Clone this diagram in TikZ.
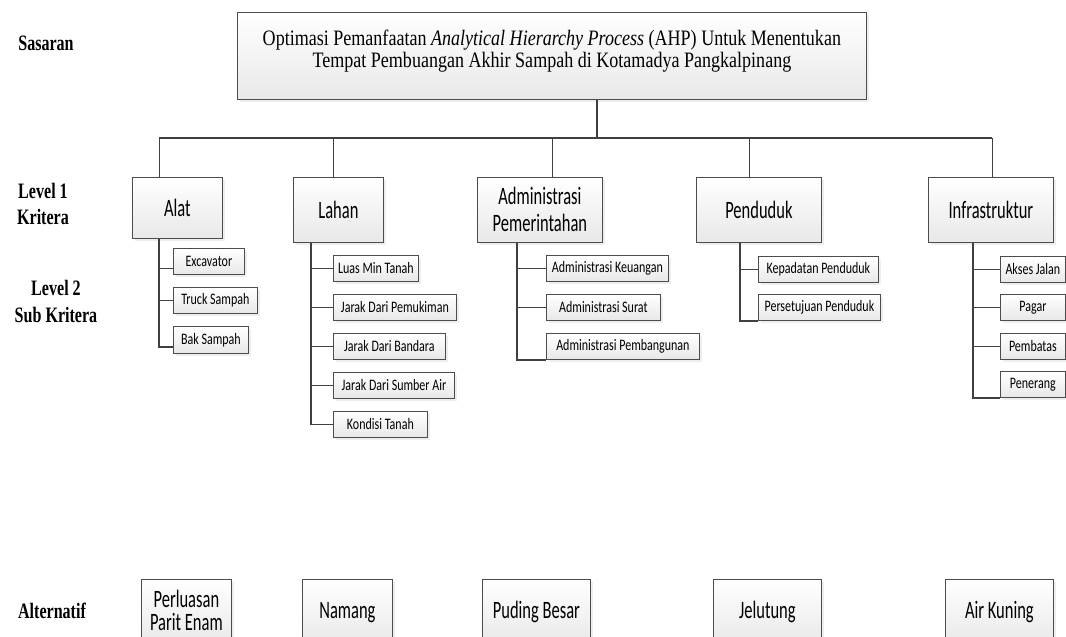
\documentclass[tikz,border=0pt]{standalone}
\usepackage{fontspec}
\setmainfont{Liberation Serif}
\newfontfamily\titlefont[FakeStretch=0.82]{Liberation Serif}
\newfontfamily\labelfont[FakeStretch=0.73]{Liberation Serif}
\newfontfamily\critfont[FakeStretch=0.66]{Carlito}
\newfontfamily\subfont[FakeStretch=0.75]{Carlito}
\usetikzlibrary{shadows}

\tikzset{
    box/.style={draw=black!70, line width=0.8pt, top color=white, bottom color=black!9,
        drop shadow={shadow xshift=3pt, shadow yshift=-3pt, fill=black!13},
        align=center, inner sep=1pt, anchor=north west},
    crit/.style={box, minimum height=65, font=\critfont\fontsize{25}{26}\selectfont},
    alt/.style={box, minimum height=66, font=\critfont\fontsize{25}{23.5}\selectfont},
    sub/.style={box, minimum height=26, font=\subfont\fontsize{16}{18}\selectfont},
    lbl/.style={anchor=base, font=\labelfont\bfseries\fontsize{22}{24}\selectfont},
    link/.style={draw=black!75, line width=1.6pt},
}

\begin{document}
\begin{tikzpicture}[x=1pt, y=-1pt]

    \useasboundingbox (0,0) rectangle (1066,637);

    % row labels
    \node[lbl] (sasaran) at (46,50) {Sasaran};
    \node[lbl] (lvla) at (43,198) {Level 1};
    \node[lbl] (lvlb) at (43,224) {Kritera};
    \node[lbl] (subla) at (56,295) {Level 2};
    \node[lbl] (sublb) at (56,322) {Sub Kritera};
    \node[lbl] (alternatif) at (52,618) {Alternatif};

    % goal
    \node[box, minimum width=629, minimum height=87, text depth=15pt,
        font=\titlefont\fontsize{22}{22}\selectfont] (goal) at (237,12)
        {Optimasi Pemanfaatan \textit{Analytical Hierarchy Process} (AHP) Untuk Menentukan\\
         Tempat Pembuangan Akhir Sampah di Kotamadya Pangkalpinang};

    % level 1
    \node[crit, minimum width=90, minimum height=61] (alat) at (132,177) {Alat};
    \node[crit, minimum width=90] (lahan) at (293,177) {Lahan};
    \node[crit, minimum width=125] (admin) at (477,177) {Administrasi\\[1pt]Pemerintahan};
    \node[crit, minimum width=125] (pend) at (696,177) {Penduduk};
    \node[crit, minimum width=125] (infra) at (928,177) {Infrastruktur};

    \coordinate (bus) at (597,138);
    \draw[link] (goal.south -| bus) -- (bus);
    \draw[link] ([xshift=-18]alat.north |- bus) -- ([xshift=1.5]infra.north |- bus);
    \foreach \n/\dx in {alat/-18, lahan/-5, admin/12.5, pend/-9.5, infra/1.5}
    \draw[link] ([xshift=\dx]\n.north |- bus) -- ([xshift=\dx]\n.north);

    % level 2
    \node[sub, minimum width=71] (exc) at (173,248) {Excavator};
    \node[sub, minimum width=84] (truck) at (173,287) {Truck Sampah};
    \node[sub, minimum width=75, minimum height=27] (bak) at (173,326) {Bak Sampah};

    \node[sub, minimum width=85] (luas) at (333,255) {Luas Min Tanah};
    \node[sub, minimum width=123] (mukim) at (333,294) {Jarak Dari Pemukiman};
    \node[sub, minimum width=112] (bandara) at (333,333) {Jarak Dari Bandara};
    \node[sub, minimum width=121] (sumber) at (333,372) {Jarak Dari Sumber Air};
    \node[sub, minimum width=94] (kondisi) at (333,411) {Kondisi Tanah};

    \node[sub, minimum width=122] (uang) at (546,255) {Administrasi Keuangan};
    \node[sub, minimum width=114] (surat) at (546,294) {Administrasi Surat};
    \node[sub, minimum width=153] (bangun) at (546,333) {Administrasi Pembangunan};

    \node[sub, minimum width=120] (padat) at (758,256) {Kepadatan Penduduk};
    \node[sub, minimum width=122] (setuju) at (758,294) {Persetujuan Penduduk};

    \node[sub, minimum width=65] (akses) at (1000,256) {Akses Jalan};
    \node[sub, minimum width=65] (pagar) at (1000,294) {Pagar};
    \node[sub, minimum width=65] (batas) at (1000,333) {Pembatas};
    \node[sub, minimum width=65] (terang) at (1000,371) {Penerang};

    \foreach \p/\dx/\c in {alat/27/truck, lahan/18/luas, lahan/18/mukim, lahan/18/bandara,
        lahan/18/sumber, lahan/18/kondisi, admin/39.7/uang, admin/39.7/surat,
        pend/44/padat, infra/44.7/akses, infra/44.7/pagar, infra/44.7/batas}
    \draw[link] ([xshift=\dx]\p.south west) |- (\c.west);
    \foreach \p/\dx/\c in {admin/39.7/bangun, pend/44/setuju, infra/44.7/terang}
    \draw[link] ([xshift=\dx]\p.south west) |- (\c.south west);
    \foreach \c in {exc, bak}
    \draw[link] ([xshift=27]alat.south west) |- ([yshift=-7]\c.west);

    % alternatives
    \node[alt, minimum width=90, text depth=4pt] (parit) at (141,579) {Perluasan\\Parit Enam};
    \node[alt, minimum width=90] (namang) at (302,579) {Namang};
    \node[alt, minimum width=108] (puding) at (482,579) {Puding Besar};
    \node[alt, minimum width=108] (jelutung) at (713,579) {Jelutung};
    \node[alt, minimum width=108] (kuning) at (945,579) {Air Kuning};

\end{tikzpicture}
\end{document}
